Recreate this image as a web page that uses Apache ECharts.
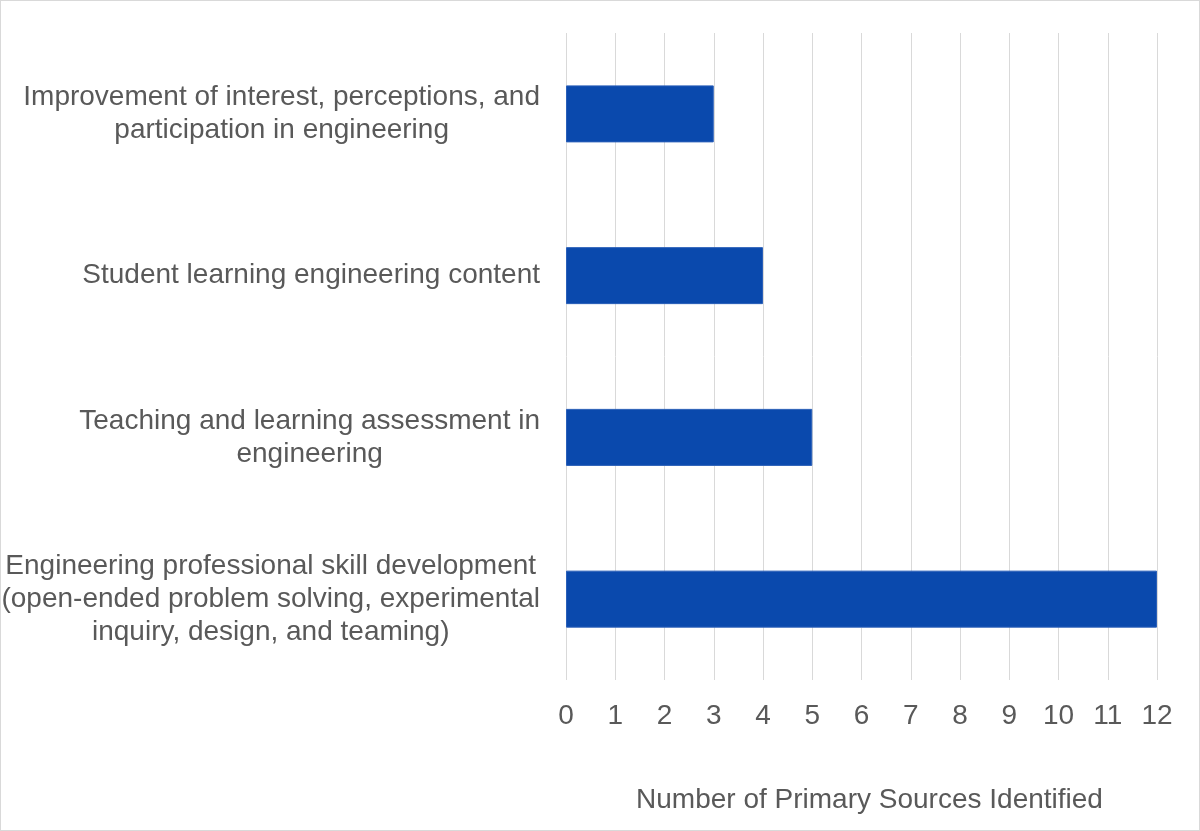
<!DOCTYPE html>
<html>
<head>
<meta charset="utf-8">
<script src="https://cdn.jsdelivr.net/npm/echarts@6/dist/echarts.min.js"></script>
<style>
  html, body { margin: 0; padding: 0; background: #fff; }
  #chart { width: 1200px; height: 831px; box-sizing: border-box; border: 1px solid #d9d9d9; }
</style>
</head>
<body>
<div id="chart"></div>
<script>
// categories, top to bottom
const categories = [
  'Improvement of interest, perceptions, and\nparticipation in engineering',
  'Student learning engineering content',
  'Teaching and learning assessment in\nengineering',
  'Engineering professional skill development\n(open-ended problem solving, experimental\ninquiry, design, and teaming)'
];
const sourceCounts = [3, 4, 5, 12];
const axisMin = 0;
const axisMax = 12;
const axisStep = 1;
const axisTitle = 'Number of Primary Sources Identified';

const textColor = '#595959';
const fontFamily = "'Liberation Sans', Arial, sans-serif";

const chart = echarts.init(document.getElementById('chart'));

const option = {
  animation: false,
  grid: { left: 565, right: 42, top: 32, bottom: 150, outerBoundsMode: 'none', containLabel: false },
  xAxis: {
    type: 'value',
    min: axisMin,
    max: axisMax,
    interval: axisStep,
    name: axisTitle,
    nameLocation: 'middle',
    nameGap: 106,
    nameTextStyle: { color: textColor, fontSize: 28, fontFamily: fontFamily, padding: [0, 0, 0, 16] },
    axisLine: { show: false },
    axisTick: { show: false },
    axisLabel: { color: textColor, fontSize: 28, fontFamily: fontFamily, margin: 22 },
    splitLine: { show: true, lineStyle: { color: '#d9d9d9', width: 1 } }
  },
  yAxis: {
    type: 'category',
    inverse: true,
    data: categories,
    axisLine: { show: false },
    axisTick: { show: false },
    axisLabel: {
      margin: 26,
      color: textColor,
      fontSize: 28,
      fontFamily: fontFamily,
      lineHeight: 33,
      formatter: (value) => value.split('\n').map(line => '{c|' + line + '}').join('\n'),
      rich: {
        c: { align: 'center', color: textColor, fontSize: 28, fontFamily: fontFamily, lineHeight: 33 }
      }
    }
  },
  series: [{
    type: 'bar',
    data: sourceCounts,
    barWidth: 57,
    itemStyle: { color: '#0a49ad', borderColor: '#2a5fb8', borderWidth: 1 }
  }]
};

chart.setOption(option);
</script>
</body>
</html>
